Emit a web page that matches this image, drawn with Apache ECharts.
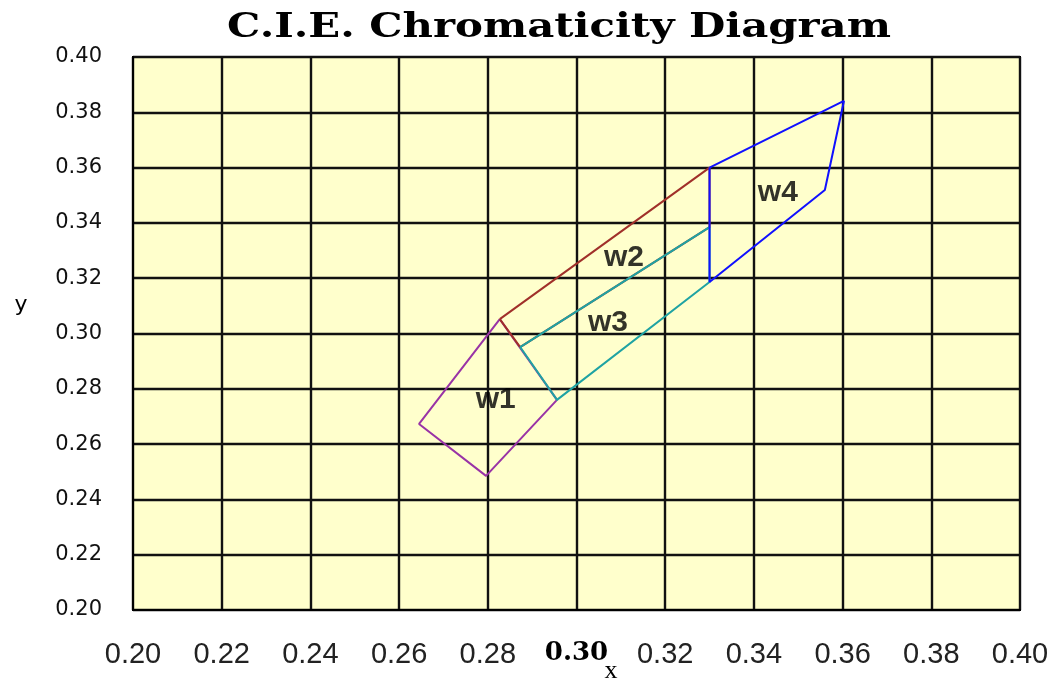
<!DOCTYPE html>
<html>
<head>
<meta charset="utf-8">
<script src="https://cdn.jsdelivr.net/npm/echarts@6/dist/echarts.min.js"></script>
<style>
  html, body { margin: 0; padding: 0; background: #fff; }
  #chart { width: 1054px; height: 682px; }
</style>
</head>
<body>
<div id="chart"></div>
<script>
// axis ticks
const xTicks = [0.20, 0.22, 0.24, 0.26, 0.28, 0.30, 0.32, 0.34, 0.36, 0.38, 0.40]
const yTicks = [0.20, 0.22, 0.24, 0.26, 0.28, 0.30, 0.32, 0.34, 0.36, 0.38, 0.40]

// region outlines (x, y chromaticity), closed
const w1X = [0.2827, 0.2645, 0.2796, 0.2956, 0.2827]
const w1Y = [0.3052, 0.2673, 0.2485, 0.2760, 0.3052]
const w2X = [0.2827, 0.3300, 0.3300, 0.2873, 0.2827]
const w2Y = [0.3052, 0.3600, 0.3385, 0.2951, 0.3052]
const w3X = [0.2873, 0.3300, 0.3300, 0.2956, 0.2873]
const w3Y = [0.2951, 0.3385, 0.3186, 0.2760, 0.2951]
const w4X = [0.3300, 0.3603, 0.3560, 0.3300, 0.3300]
const w4Y = [0.3600, 0.3841, 0.3519, 0.3186, 0.3600]

// label positions
const labelNames = ['w1', 'w2', 'w3', 'w4']
const labelX = [0.2818, 0.3107, 0.3071, 0.3454]
const labelY = [0.2760, 0.3273, 0.3038, 0.3508]

const pairs = (xs, ys) => xs.map((x, i) => [x, ys[i]])

const outline = (name, xs, ys, color) => ({
  name: name,
  type: 'line',
  symbol: 'none',
  silent: true,
  lineStyle: { color: color, width: 2 },
  data: pairs(xs, ys)
})

let canvas = echarts.init(document.getElementById('chart'))
let options = {
  animation: false,
  graphic: [
    {
      type: 'text',
      x: 559,
      y: 28,
      scaleX: 1.23,
      style: {
        text: 'C.I.E. Chromaticity Diagram',
        font: 'bold 34px "DejaVu Serif"',
        fill: '#000',
        align: 'center',
        verticalAlign: 'middle'
      }
    },
    {
      // y axis title
      type: 'text',
      x: 21,
      y: 305,
      style: {
        text: 'y',
        font: '22px "DejaVu Sans"',
        fill: '#000',
        align: 'center',
        verticalAlign: 'middle'
      }
    },
    {
      // x axis title
      type: 'text',
      x: 611,
      y: 671,
      style: {
        text: 'x',
        font: '26px "Liberation Serif"',
        fill: '#000',
        align: 'center',
        verticalAlign: 'middle'
      }
    }
  ],
  grid: {
    left: 133,
    right: 34,
    top: 57,
    bottom: 72,
    outerBoundsMode: 'none',
    show: true,
    backgroundColor: '#FFFFCC',
    borderColor: '#000',
    borderWidth: 2
  },
  xAxis: {
    type: 'value',
    min: 0.20,
    max: 0.40,
    interval: 0.02,
    axisLine: { show: true, lineStyle: { color: '#000', width: 2 } },
    axisTick: { show: false },
    splitLine: { show: true, lineStyle: { color: '#111', width: 2.4 } },
    axisLabel: {
      margin: 30,
      color: '#222',
      fontSize: 29,
      fontFamily: 'Liberation Sans',
      formatter: (v) => {
        let s = xTicks.find(t => Math.abs(t - v) < 1e-6)
        s = (s === undefined ? v : s).toFixed(2)
        return Math.abs(v - 0.30) < 1e-6 ? '{b|' + s + '}' : s
      },
      rich: {
        b: { fontSize: 26, fontWeight: 'bold', fontFamily: 'DejaVu Serif', color: '#000' }
      }
    }
  },
  yAxis: {
    type: 'value',
    min: 0.20,
    max: 0.40,
    interval: 0.02,
    axisLine: { show: true, lineStyle: { color: '#000', width: 2 } },
    axisTick: { show: false },
    splitLine: { show: true, lineStyle: { color: '#111', width: 2.4 } },
    axisLabel: {
      margin: 31,
      color: '#111',
      fontSize: 21,
      fontFamily: 'DejaVu Sans',
      formatter: (v) => {
        let s = yTicks.find(t => Math.abs(t - v) < 1e-6)
        return (s === undefined ? v : s).toFixed(2)
      }
    }
  },
  series: [
    outline('w1', w1X, w1Y, '#9933A6'),
    outline('w2', w2X, w2Y, '#A0302A'),
    outline('w3', w3X, w3Y, '#1FA3A3'),
    outline('w4', w4X, w4Y, '#1010FF'),
    {
      name: 'labels',
      type: 'scatter',
      symbolSize: 0,
      silent: true,
      data: labelNames.map((n, i) => ({ name: n, value: [labelX[i], labelY[i]] })),
      label: {
        show: true,
        position: 'inside',
        formatter: '{b}',
        color: '#000',
        fontSize: 30,
        fontWeight: 'bold',
        fontFamily: 'Liberation Sans'
      }
    }
  ]
}
canvas.setOption(options)
</script>
</body>
</html>
